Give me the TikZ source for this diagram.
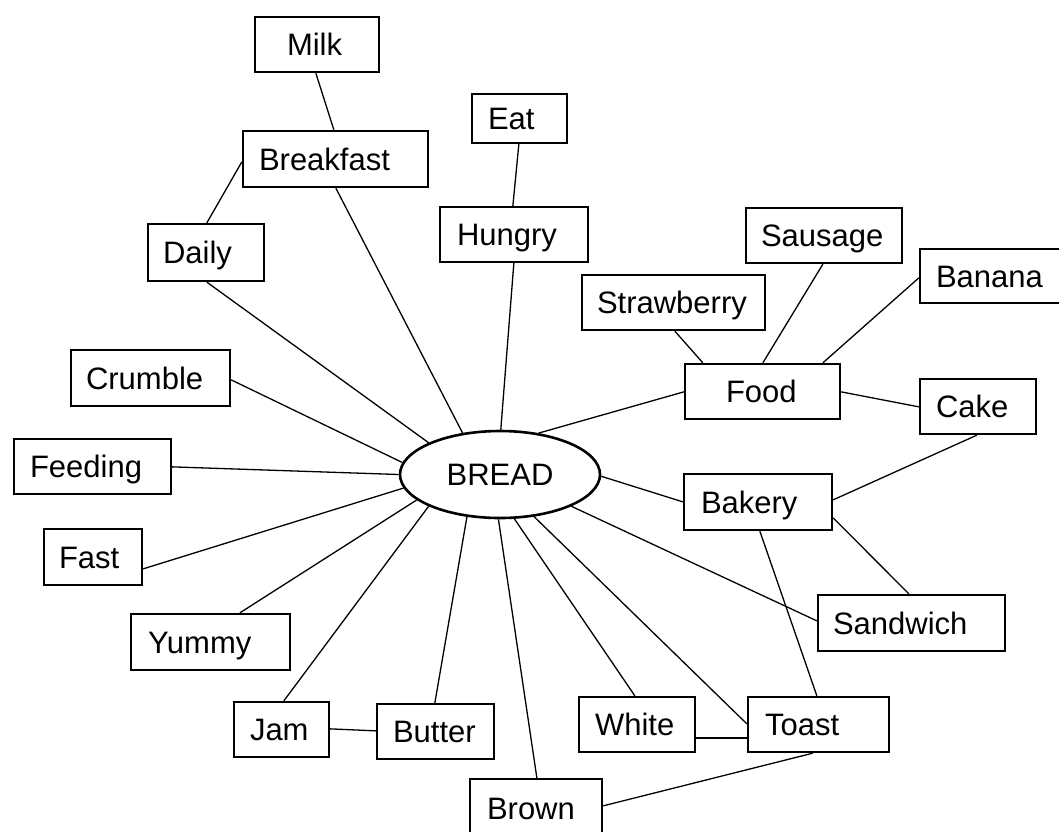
\documentclass[tikz,border=0pt]{standalone}
\usepackage{fontspec}
\setmainfont{Liberation Sans}
\usetikzlibrary{shapes.geometric}
\newcommand\labelfont{\fontsize{31}{37}\selectfont\hyphenpenalty=10000\exhyphenpenalty=10000}
\newcommand\mybox[7]{%
  \pgfmathsetmacro\bxw{#4-#2-2}%
  \pgfmathsetmacro\bxh{#5-#3-2}%
  \pgfmathsetmacro\bxs{#6-1}%
  \pgfmathsetmacro\bxt{\bxw-2*\bxs}%
  \pgfmathsetmacro\bxcx{(#2+#4)/2}%
  \pgfmathsetmacro\bxcy{(#3+#5)/2}%
  \node[box, minimum width=\bxw pt, minimum height=\bxh pt, inner xsep=\bxs pt, text width=\bxt pt] (#1) at (\bxcx,\bxcy) {#7};}
\tikzset{
  box/.style={draw, rectangle, line width=2.3pt, inner ysep=0pt, text height=22pt, text depth=0pt, align=left, font=\labelfont},
  hub/.style={draw, ellipse, line width=2.6pt, minimum width=200pt, minimum height=87pt, inner sep=0pt, text height=22pt, text depth=0pt, font=\labelfont},
  link/.style={line width=1.3pt}
}
\begin{document}
\begin{tikzpicture}[x=1pt,y=-1pt]
\fill[white] (0,0) rectangle (1059,831);
\useasboundingbox (0,0) rectangle (1059,831);
% boxes: name, x1, y1, x2, y2, left pad, text
\mybox{milk}{254}{16}{380}{73}{33}{Milk}
\mybox{breakfast}{242}{130}{429}{188}{17}{Breakfast}
\mybox{eat}{471}{93}{568}{144}{17}{Eat}
\mybox{hungry}{439}{206}{589}{263}{18}{Hungry}
\mybox{daily}{147}{223}{265}{282}{16}{Daily}
\mybox{sausage}{745}{207}{903}{264}{16}{Sausage}
\mybox{banana}{919}{248}{1078}{304}{17}{Banana}
\mybox{strawberry}{581}{274}{766}{331}{16}{Strawberry}
\mybox{food}{684}{363}{841}{420}{42}{Food}
\mybox{cake}{919}{378}{1037}{435}{17}{Cake}
\mybox{crumble}{70}{349}{231}{407}{16}{Crumble}
\mybox{feeding}{13}{438}{172}{495}{17}{Feeding}
\mybox{fast}{43}{528}{143}{586}{16}{Fast}
\mybox{yummy}{130}{613}{291}{671}{18}{Yummy}
\mybox{bakery}{683}{473}{833}{531}{18}{Bakery}
\mybox{sandwich}{817}{594}{1006}{652}{16}{Sandwich}
\mybox{jam}{233}{701}{330}{758}{17}{Jam}
\mybox{butter}{376}{703}{495}{760}{17}{Butter}
\mybox{white}{578}{696}{696}{753}{17}{White}
\mybox{toast}{747}{696}{890}{753}{18}{Toast}
\mybox{brown}{469}{778}{603}{838}{18}{Brown}
\node[hub] (bread) at (500,474.5) {BREAD};
% connectors
\draw[link] ([xshift=62pt]milk.south west) -- ([xshift=92pt]breakfast.north west);
\draw[link] ([xshift=60pt]daily.north west) -- ([yshift=-32pt]breakfast.north west);
\draw[link] ([xshift=48pt]eat.south west) -- ([xshift=74pt]hungry.north west);
\draw[link] ([xshift=94pt]breakfast.south west) -- (bread.132);
\draw[link] ([xshift=60pt]daily.south west) -- (bread.156);
\draw[link] ([xshift=75pt]hungry.south west) -- (bread.89);
\draw[link] ([yshift=-31pt]crumble.north east) -- (bread.173);
\draw[link] ([yshift=-29pt]feeding.north east) -- (bread.180);
\draw[link] ([yshift=-41pt]fast.north east) -- (bread.188);
\draw[link] ([xshift=110pt]yummy.north west) -- (bread.197);
\draw[link] ([xshift=51pt]jam.north west) -- (bread.204);
\draw[link] ([xshift=59pt]butter.north west) -- (bread.232);
\draw[link] ([xshift=68pt]brown.north west) -- (bread.268);
\draw[link] ([xshift=57pt]white.north west) -- (bread.288);
\draw[link] ([yshift=-28pt]toast.north west) -- (bread.309);
\draw[link] ([yshift=-27pt]sandwich.north west) -- (bread.336);
\draw[link] ([yshift=-29pt]bakery.north west) -- (bread.359);
\draw[link] ([yshift=-29pt]food.north west) -- (bread.47);
\draw[link] ([xshift=94pt]strawberry.south west) -- ([xshift=19pt]food.north west);
\draw[link] ([xshift=78pt]sausage.south west) -- ([xshift=79pt]food.north west);
\draw[link] ([yshift=-30pt]banana.north west) -- ([xshift=139pt]food.north west);
\draw[link] ([yshift=-29pt]food.north east) -- ([yshift=-29pt]cake.north west);
\draw[link] ([xshift=58pt]cake.south west) -- ([yshift=-27pt]bakery.north east);
\draw[link] ([yshift=-45pt]bakery.north east) -- ([xshift=92pt]sandwich.north west);
\draw[link] ([xshift=77pt]bakery.south west) -- ([xshift=70pt]toast.north west);
\draw[link] ([yshift=-28pt]jam.north east) -- ([yshift=-28pt]butter.north west);
\draw[link] ([yshift=-42pt]white.north east) -- ([yshift=-42pt]toast.north west);
\draw[link] ([xshift=66pt]toast.south west) -- ([yshift=-28pt]brown.north east);
\end{tikzpicture}
\end{document}
